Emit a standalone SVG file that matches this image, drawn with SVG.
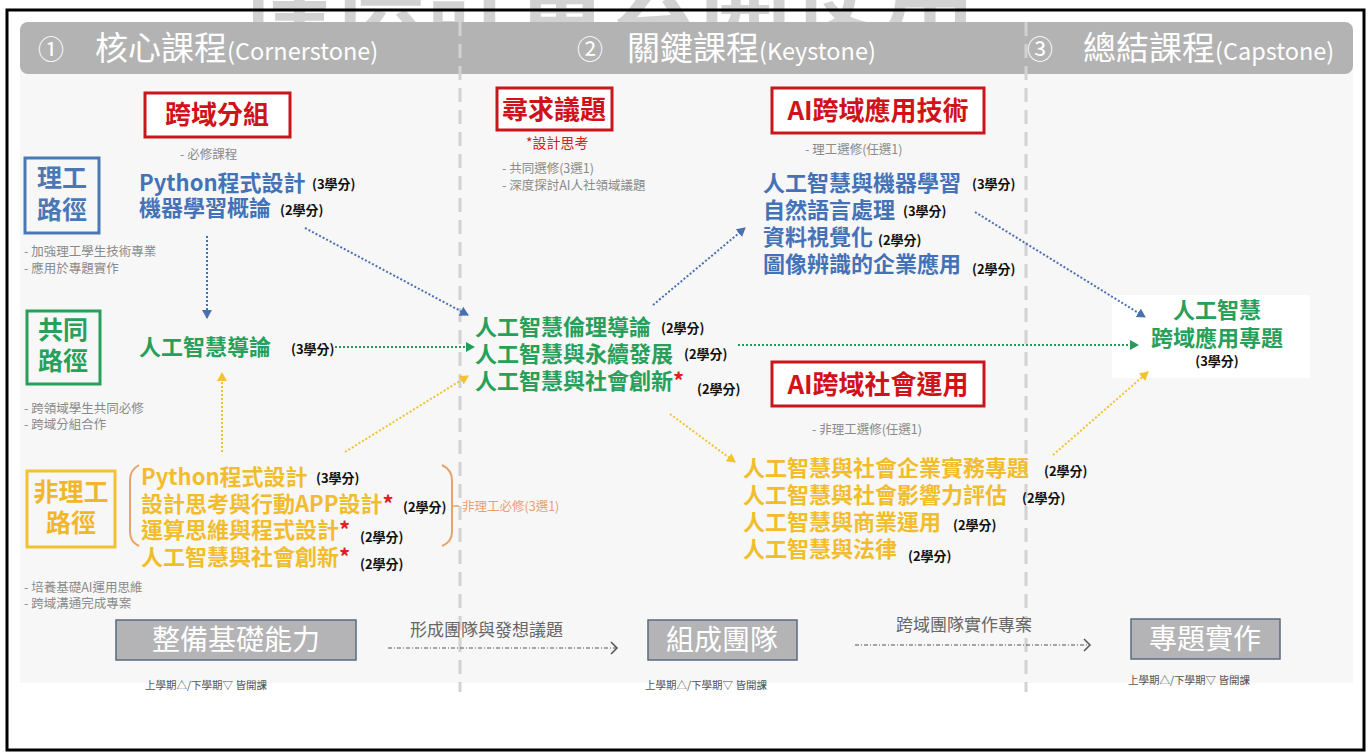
<svg xmlns="http://www.w3.org/2000/svg" width="1371" height="756" viewBox="0 0 1371 756">
<style>
text{font-family:"Noto Sans CJK TC","Noto Sans",sans-serif}
.ban{fill:#fff;font-size:33px}
.banS{fill:#fff;font-size:23.5px}
.num{fill:#fff;font-size:26px}
.rt{fill:#d0121b;font-size:26px;font-weight:bold}
.rbox{fill:#fff;stroke:#c8161d;stroke-width:3}
.note{fill:#8a8a8a;font-size:12.5px}
.cr{fill:#111;font-size:13px;font-weight:bold}
.bl{fill:#4472b8;font-size:22px;font-weight:bold}
.gr{fill:#27a05a;font-size:22px;font-weight:bold}
.yl{fill:#f2bd2c;font-size:22px;font-weight:bold}
.ast{fill:#e02020}
.sep{stroke:#d2d2d2;stroke-width:3;stroke-dasharray:14 8;fill:none}
.cb{stroke:#4a70b2;stroke-width:2;stroke-dasharray:2 2;fill:none}
.cg{stroke:#2a9a5a;stroke-width:2;stroke-dasharray:2 2;fill:none}
.cy{stroke:#f2c230;stroke-width:2;stroke-dasharray:2 2;fill:none}
.gbox{fill:#b4b4b6;stroke:#5b6a7e;stroke-width:1.5}
.gbt{fill:#fff;font-size:28px}
.sm{fill:#555;font-size:10.5px}
.flow{fill:#666;font-size:17px}
.fl{stroke:#555;stroke-width:1.2;stroke-dasharray:4 2 1 2;fill:none}
</style>
<defs>
<marker id="mb" markerWidth="10" markerHeight="10" refX="8" refY="5" orient="auto" markerUnits="userSpaceOnUse"><path d="M0,0 L9,5 L0,10 z" fill="#4a70b2"/></marker>
<marker id="mg" markerWidth="10" markerHeight="10" refX="8" refY="5" orient="auto" markerUnits="userSpaceOnUse"><path d="M0,0 L9,5 L0,10 z" fill="#2a9a5a"/></marker>
<marker id="my" markerWidth="10" markerHeight="10" refX="8" refY="5" orient="auto" markerUnits="userSpaceOnUse"><path d="M0,0 L9,5 L0,10 z" fill="#f2c230"/></marker>
<marker id="mc" markerWidth="10" markerHeight="14" refX="7" refY="7" orient="auto" markerUnits="userSpaceOnUse"><path d="M1,1 L7,7 L1,13" fill="none" stroke="#555" stroke-width="1.5"/></marker>
<clipPath id="wm"><rect x="0" y="0" width="1371" height="22"/></clipPath>
</defs>
<rect width="1371" height="756" fill="#fff"/>
<text x="240" y="26" clip-path="url(#wm)" style="font-size:92px;font-weight:bold;fill:#d2d2d2" textLength="735">僅供計畫公開使用</text>
<rect x="7" y="10" width="1357" height="740" fill="none" stroke="#000" stroke-width="3"/>
<rect x="20" y="60" width="1333" height="623" fill="#f7f7f7"/>
<rect x="20" y="22" width="1333" height="52" rx="8" fill="#b3b3b3"/>
<g id="banner">
<text x="38" y="59" class="num">①</text>
<text x="95" y="60" class="ban">核心課程</text>
<text x="227" y="60" class="banS">(Cornerstone)</text>
<text x="577" y="59" class="num">②</text>
<text x="627" y="60" class="ban">關鍵課程</text>
<text x="759" y="60" class="banS">(Keystone)</text>
<text x="1027" y="59" class="num">③</text>
<text x="1083" y="60" class="ban">總結課程</text>
<text x="1215" y="60" class="banS">(Capstone)</text>
</g>
<line x1="460" y1="22" x2="460" y2="692" class="sep"/>
<line x1="1026" y1="22" x2="1026" y2="692" class="sep"/>

<g id="n-kuayu">
<rect x="145" y="93" width="145" height="44" class="rbox"/>
<text x="217" y="124" class="rt" text-anchor="middle">跨域分組</text>
<text x="180" y="159" class="note">- 必修課程</text>
</g>
<g id="n-ligong-path">
<rect x="25" y="158" width="74" height="75" fill="none" stroke="#4a78b4" stroke-width="3"/>
<text x="62" y="187" text-anchor="middle" style="fill:#4a78b4;font-size:25px;font-weight:bold">理工</text>
<text x="62" y="219" text-anchor="middle" style="fill:#4a78b4;font-size:25px;font-weight:bold">路徑</text>
<text x="24" y="256" class="note">- 加強理工學生技術專業</text>
<text x="24" y="273" class="note">- 應用於專題實作</text>
</g>
<g id="n-ligong-courses">
<text x="139" y="191" class="bl">Python程式設計</text><text x="312" y="189" class="cr">(3學分)</text>
<text x="139" y="216" class="bl">機器學習概論</text><text x="280" y="215" class="cr">(2學分)</text>
</g>
<g id="n-common-path">
<rect x="27" y="311" width="73" height="73" fill="none" stroke="#27a05a" stroke-width="3"/>
<text x="63" y="339" text-anchor="middle" style="fill:#27a05a;font-size:25px;font-weight:bold">共同</text>
<text x="63" y="370" text-anchor="middle" style="fill:#27a05a;font-size:25px;font-weight:bold">路徑</text>
<text x="24" y="413" class="note">- 跨領域學生共同必修</text>
<text x="24" y="429" class="note">- 跨域分組合作</text>
</g>
<g id="n-ai-intro">
<text x="139" y="355" class="gr">人工智慧導論</text><text x="291" y="354" class="cr">(3學分)</text>
</g>
<g id="n-nonligong-path">
<rect x="27" y="471" width="88" height="76" fill="none" stroke="#f2c230" stroke-width="3"/>
<text x="71" y="501" text-anchor="middle" style="fill:#f2b62a;font-size:25px;font-weight:bold">非理工</text>
<text x="71" y="532" text-anchor="middle" style="fill:#f2b62a;font-size:25px;font-weight:bold">路徑</text>
<text x="24" y="592" class="note">- 培養基礎AI運用思維</text>
<text x="24" y="608" class="note">- 跨域溝通完成專案</text>
</g>
<g id="n-nonligong-courses">
<path d="M139,465 Q130,470 130,480 L130,532 Q130,542 139,546" fill="none" stroke="#e8a468" stroke-width="2"/>
<path d="M442,465 Q452,470 452,480 L452,532 Q452,542 442,546" fill="none" stroke="#e8a468" stroke-width="2"/>
<line x1="452" y1="506" x2="459" y2="506" stroke="#e8a468" stroke-width="1.5"/>
<text x="462" y="511" style="fill:#e8a070;font-size:12.5px">非理工必修(3選1)</text>
<text x="141" y="485" class="yl">Python程式設計</text><text x="316" y="483" class="cr">(3學分)</text>
<text x="141" y="512" class="yl">設計思考與行動APP設計<tspan class="ast">*</tspan></text><text x="403" y="512" class="cr">(2學分)</text>
<text x="141" y="538" class="yl">運算思維與程式設計<tspan class="ast">*</tspan></text><text x="360" y="542" class="cr">(2學分)</text>
<text x="141" y="565" class="yl">人工智慧與社會創新<tspan class="ast">*</tspan></text><text x="360" y="569" class="cr">(2學分)</text>
</g>

<g id="n-issue">
<rect x="497" y="88" width="115" height="42" class="rbox"/>
<text x="554" y="119" class="rt" text-anchor="middle">尋求議題</text>
<text x="526" y="148" style="fill:#d02020;font-size:14px">*設計思考</text>
<text x="502" y="173" class="note">-   共同選修(3選1)</text>
<text x="502" y="190" class="note">-   深度探討AI人社領域議題</text>
</g>
<g id="n-key-courses">
<text x="475" y="335" class="gr">人工智慧倫理導論</text><text x="661" y="333" class="cr">(2學分)</text>
<text x="475" y="362" class="gr">人工智慧與永續發展</text><text x="684" y="359" class="cr">(2學分)</text>
<text x="475" y="389" class="gr">人工智慧與社會創新<tspan class="ast">*</tspan></text><text x="697" y="394" class="cr">(2學分)</text>
</g>
<g id="n-ai-tech">
<rect x="772" y="88" width="212" height="45" class="rbox"/>
<text x="878" y="120" class="rt" text-anchor="middle">AI跨域應用技術</text>
<text x="805" y="154" class="note">- 理工選修(任選1)</text>
<text x="763" y="191" class="bl">人工智慧與機器學習</text><text x="972" y="189" class="cr">(3學分)</text>
<text x="763" y="218" class="bl">自然語言處理</text><text x="903" y="216" class="cr">(3學分)</text>
<text x="763" y="245" class="bl">資料視覺化</text><text x="878" y="245" class="cr">(2學分)</text>
<text x="763" y="272" class="bl">圖像辨識的企業應用</text><text x="972" y="274" class="cr">(2學分)</text>
</g>
<g id="n-ai-social">
<rect x="772" y="362" width="212" height="44" class="rbox"/>
<text x="878" y="394" class="rt" text-anchor="middle">AI跨域社會運用</text>
<text x="812" y="434" class="note">- 非理工選修(任選1)</text>
<text x="743" y="476" class="yl">人工智慧與社會企業實務專題</text><text x="1044" y="476" class="cr">(2學分)</text>
<text x="743" y="503" class="yl">人工智慧與社會影響力評估</text><text x="1022" y="503" class="cr">(2學分)</text>
<text x="743" y="530" class="yl">人工智慧與商業運用</text><text x="953" y="530" class="cr">(2學分)</text>
<text x="743" y="557" class="yl">人工智慧與法律</text><text x="908" y="561" class="cr">(2學分)</text>
</g>
<g id="n-capstone">
<rect x="1112" y="295" width="198" height="83" fill="#fff"/>
<text x="1217" y="318" class="gr" text-anchor="middle">人工智慧</text>
<text x="1217" y="346" class="gr" text-anchor="middle">跨域應用專題</text>
<text x="1217" y="366" class="cr" text-anchor="middle">(3學分)</text>
</g>

<g id="connectors">
<line x1="207" y1="236" x2="207" y2="318" class="cb" marker-end="url(#mb)"/>
<line x1="305" y1="228" x2="468" y2="315" class="cb" marker-end="url(#mb)"/>
<line x1="335" y1="347" x2="474" y2="347" class="cg" marker-end="url(#mg)"/>
<line x1="222" y1="452" x2="222" y2="373" class="cy" marker-end="url(#my)"/>
<line x1="345" y1="452" x2="468" y2="376" class="cy" marker-end="url(#my)"/>
<line x1="653" y1="305" x2="745" y2="228" class="cb" marker-end="url(#mb)"/>
<line x1="670" y1="414" x2="735" y2="462" class="cy" marker-end="url(#my)"/>
<line x1="738" y1="345" x2="1138" y2="345" class="cg" marker-end="url(#mg)"/>
<line x1="975" y1="212" x2="1145" y2="317" class="cb" marker-end="url(#mb)"/>
<line x1="1053" y1="455" x2="1148" y2="372" class="cy" marker-end="url(#my)"/>
<line x1="388" y1="648" x2="617" y2="648" class="fl" marker-end="url(#mc)"/>
<line x1="855" y1="645" x2="1090" y2="645" class="fl" marker-end="url(#mc)"/>
</g>

<g id="n-stage1">
<rect x="116" y="620" width="240" height="40" class="gbox"/>
<text x="236" y="650" class="gbt" text-anchor="middle">整備基礎能力</text>
<text x="145" y="689" class="sm">上學期△/下學期▽ 皆開課</text>
</g>
<g id="n-flow1"><text x="410" y="636" class="flow">形成團隊與發想議題</text></g>
<g id="n-stage2">
<rect x="648" y="620" width="149" height="40" class="gbox"/>
<text x="722" y="650" class="gbt" text-anchor="middle">組成團隊</text>
<text x="645" y="689" class="sm">上學期△/下學期▽ 皆開課</text>
</g>
<g id="n-flow2"><text x="896" y="631" class="flow">跨域團隊實作專案</text></g>
<g id="n-stage3">
<rect x="1131" y="619" width="149" height="40" class="gbox"/>
<text x="1205" y="649" class="gbt" text-anchor="middle">專題實作</text>
<text x="1128" y="684" class="sm">上學期△/下學期▽ 皆開課</text>
</g>
</svg>
